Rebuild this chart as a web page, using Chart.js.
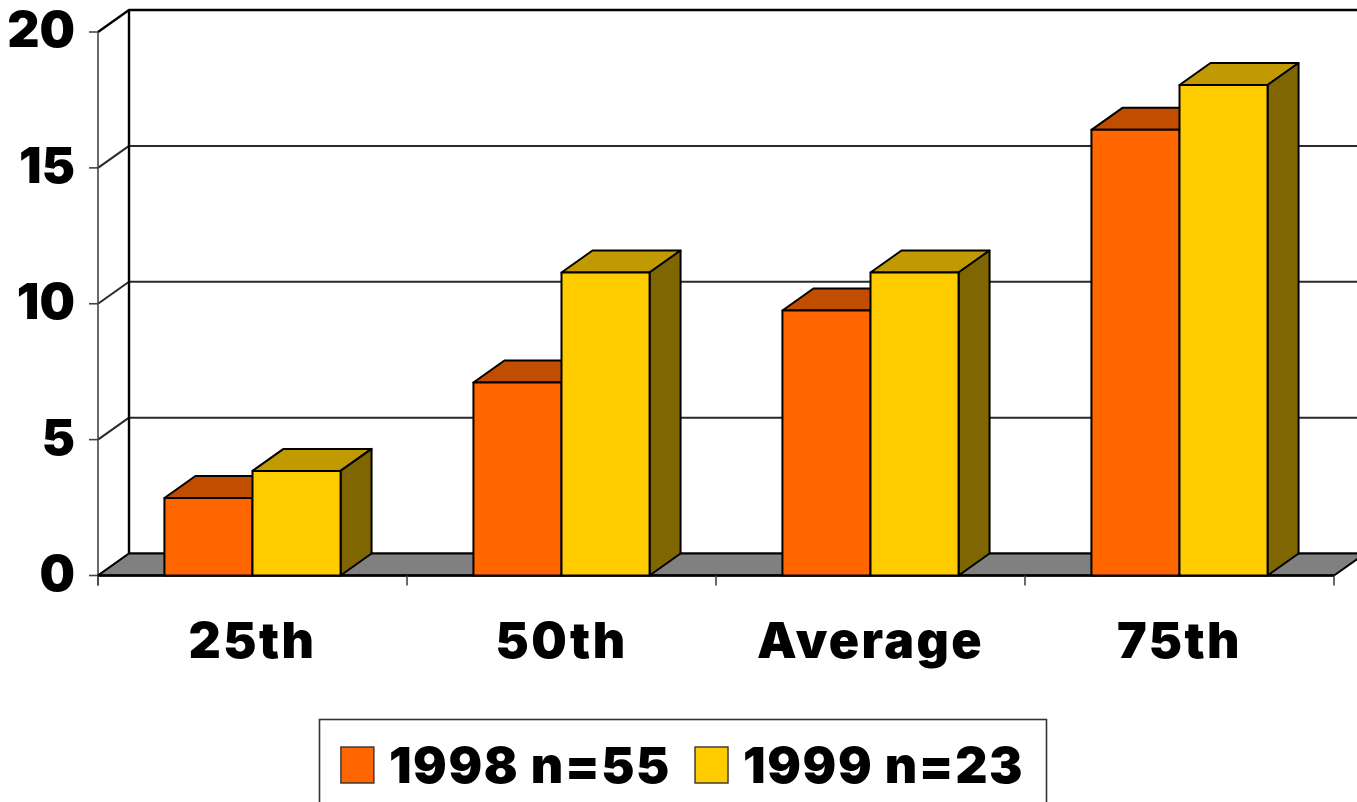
<!DOCTYPE html>
<html>
<head>
<meta charset="utf-8">
<script src="https://cdn.jsdelivr.net/npm/chart.js@4.4.1/dist/chart.umd.min.js"></script>
<style>
  html, body { margin: 0; padding: 0; background: #ffffff; }
  #chart { display: block; }
</style>
</head>
<body>
<canvas id="chart" width="1357" height="802"></canvas>
<script>
// Categories along the floor
const categories = ['25th', '50th', 'Average', '75th'];

// Series values
const values1998 = [2.85, 7.1, 9.75, 16.4];
const values1999 = [3.85, 11.15, 11.15, 18.05];

// Series names shown in the legend
const seriesNames = ['1998 n=55', '1999 n=23'];

// Value axis ticks
const yTicks = [0, 5, 10, 15, 20];

// Face colours
const frontColors = ['#FF6600', '#FFCC00'];
const topColors = ['#C04D00', '#C09A00'];
const sideColors = ['#803300', '#806600'];

// Depth offset of the 3-D box (pixels)
const DX = 31, DY = 22;

const FONT = 'Inter, "DejaVu Sans", sans-serif';
const WEIGHT = 900;

function poly(ctx, pts, fill) {
  ctx.beginPath();
  ctx.moveTo(pts[0][0], pts[0][1]);
  for (let i = 1; i < pts.length; i++) ctx.lineTo(pts[i][0], pts[i][1]);
  ctx.closePath();
  if (fill) { ctx.fillStyle = fill; ctx.fill(); }
  ctx.stroke();
}

// Wider tracking for the category labels
const wideCategoryLabels = {
  id: 'wideCategoryLabels',
  afterLayout(chart) {
    const sx = chart.scales.x;
    if (sx._wideWrapped) return;
    const orig = sx.drawLabels;
    sx.drawLabels = function (area) {
      const ctx = this.ctx;
      ctx.save();
      ctx.letterSpacing = '2.4px';
      orig.call(this, area);
      ctx.restore();
    };
    sx._wideWrapped = true;
  }
};

// Walls, floor, gridlines and axis tick marks
const walls = {
  id: 'walls',
  beforeDatasetsDraw(chart) {
    const { ctx, chartArea: a, scales: { x, y } } = chart;
    const W = chart.width;
    const topVal = yTicks[yTicks.length - 1];
    ctx.save();
    ctx.lineJoin = 'round';

    // gridlines: left wall diagonal + back wall horizontal
    yTicks.forEach(v => {
      const py = y.getPixelForValue(v);
      ctx.strokeStyle = v === topVal ? '#000' : '#2a2a2a';
      ctx.lineWidth = v === topVal ? 2.4 : 2;
      ctx.beginPath();
      ctx.moveTo(a.left, py);
      ctx.lineTo(a.left + DX, py - DY);
      ctx.lineTo(W + 10, py - DY);
      ctx.stroke();
    });

    // back wall left edge
    ctx.strokeStyle = '#000';
    ctx.lineWidth = 2.4;
    ctx.beginPath();
    ctx.moveTo(a.left + DX, y.getPixelForValue(topVal) - DY);
    ctx.lineTo(a.left + DX, a.bottom - DY);
    ctx.stroke();

    // front value axis
    ctx.strokeStyle = '#444';
    ctx.lineWidth = 1.6;
    ctx.beginPath();
    ctx.moveTo(a.left, y.getPixelForValue(topVal));
    ctx.lineTo(a.left, a.bottom + 10);
    ctx.stroke();

    // value axis tick marks
    yTicks.forEach(v => {
      const py = y.getPixelForValue(v);
      ctx.beginPath();
      ctx.moveTo(a.left - 9, py);
      ctx.lineTo(a.left, py);
      ctx.stroke();
    });

    // floor
    ctx.strokeStyle = '#000';
    ctx.lineWidth = 2;
    poly(ctx, [
      [a.left, a.bottom], [a.right, a.bottom],
      [a.right + DX, a.bottom - DY], [a.left + DX, a.bottom - DY]
    ], '#808080');
    ctx.lineWidth = 2.6;
    ctx.beginPath();
    ctx.moveTo(a.left, a.bottom);
    ctx.lineTo(a.right, a.bottom);
    ctx.stroke();

    // category boundary ticks
    ctx.strokeStyle = '#444';
    ctx.lineWidth = 1.6;
    const step = (a.right - a.left) / categories.length;
    for (let i = 0; i <= categories.length; i++) {
      const px = a.left + i * step;
      ctx.beginPath();
      ctx.moveTo(px, a.bottom);
      ctx.lineTo(px, a.bottom + 10);
      ctx.stroke();
    }
    ctx.restore();
  },

  // 3-D boxes: each bar gets its front (drawn by the element), top and side faces
  afterDatasetsDraw(chart) {
    const { ctx } = chart;
    const metas = chart.data.datasets.map((d, i) => chart.getDatasetMeta(i));
    ctx.save();
    ctx.lineJoin = 'round';
    ctx.strokeStyle = '#000';
    ctx.lineWidth = 2;
    categories.forEach((c, j) => {
      metas.forEach((m, i) => {
        const bar = m.data[j];
        const { x, y, base, width } = bar.getProps(['x', 'y', 'base', 'width'], true);
        const l = x - width / 2, r = x + width / 2;
        poly(ctx, [[l, y], [r, y], [r + DX, y - DY], [l + DX, y - DY]], topColors[i]);
        poly(ctx, [[r, y], [r + DX, y - DY], [r + DX, base - DY], [r, base]], sideColors[i]);
        bar.draw(ctx);
        ctx.strokeRect(l, y, width, base - y);
      });
    });
    ctx.restore();
  }
};

// Framed legend below the plot
const framedLegend = {
  id: 'framedLegend',
  afterDraw(chart) {
    const { ctx } = chart;
    const boxL = 319, boxR = 1046, boxT = 719;
    ctx.save();
    ctx.strokeStyle = '#333';
    ctx.lineWidth = 1.6;
    ctx.strokeRect(boxL + 0.5, boxT + 0.5, boxR - boxL, 120);

    ctx.font = WEIGHT + ' 50px ' + FONT;
    ctx.letterSpacing = '1.6px';
    ctx.textBaseline = 'alphabetic';
    ctx.textAlign = 'left';
    const sw = 33, sh = 36, gap = 15, itemGap = 24;
    const items = chart.data.datasets.map((d, i) => ({
      text: d.label, color: d.backgroundColor, w: ctx.measureText(d.label).width
    }));
    const total = items.reduce((s, it) => s + sw + gap + it.w, 0) + itemGap * (items.length - 1);
    let px = (boxL + boxR) / 2 - total / 2;
    const baseY = 783;
    items.forEach(it => {
      ctx.fillStyle = it.color;
      ctx.fillRect(px, baseY - sh, sw, sh);
      ctx.strokeStyle = '#333';
      ctx.lineWidth = 1.4;
      ctx.strokeRect(px, baseY - sh, sw, sh);
      ctx.fillStyle = '#000';
      ctx.fillText(it.text, px + sw + gap, baseY);
      px += sw + gap + it.w + itemGap;
    });
    ctx.restore();
  }
};

new Chart(document.getElementById('chart'), {
  type: 'bar',
  data: {
    labels: categories,
    datasets: [
      { label: seriesNames[0], data: values1998, backgroundColor: frontColors[0],
        borderColor: '#000', borderWidth: 0 },
      { label: seriesNames[1], data: values1999, backgroundColor: frontColors[1],
        borderColor: '#000', borderWidth: 0 }
    ]
  },
  options: {
    responsive: false,
    animation: false,
    devicePixelRatio: 1,
    layout: { padding: { top: 32, right: 23, left: 0, bottom: 0 } },
    datasets: { bar: { categoryPercentage: 0.57, barPercentage: 1.0 } },
    plugins: { legend: { display: false }, tooltip: { enabled: false } },
    scales: {
      x: {
        grid: { display: false, drawTicks: false },
        border: { display: false },
        ticks: { color: '#000', font: { family: FONT, size: 50, weight: WEIGHT }, padding: 37 },
        afterFit(scale) { scale.height = 226.5; scale.paddingLeft = 0; scale.paddingRight = 0; }
      },
      y: {
        min: 0, max: 20,
        grid: { display: false, drawTicks: false },
        border: { display: false },
        afterBuildTicks(scale) { scale.ticks = yTicks.map(v => ({ value: v })); },
        ticks: { color: '#000', font: { family: FONT, size: 50, weight: WEIGHT }, padding: 23 },
        afterFit(scale) { scale.width = 98; scale.paddingTop = 0; scale.paddingBottom = 0; }
      }
    }
  },
  plugins: [wideCategoryLabels, walls, framedLegend]
});
</script>
</body>
</html>
